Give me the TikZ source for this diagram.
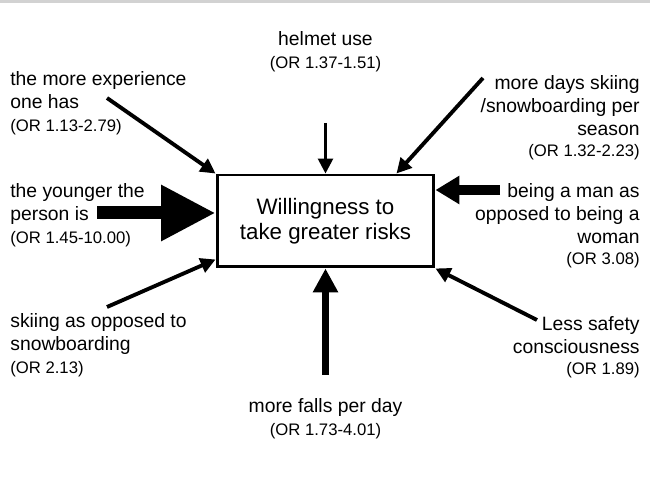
\documentclass[tikz,border=0pt]{standalone}
\usepackage{fontspec}
\setmainfont{Liberation Sans}
\usetikzlibrary{arrows.meta,calc}

\newcommand{\oddsr}{\fontsize{9.5}{11}\selectfont}

\begin{document}
\begin{tikzpicture}[x=0.02cm,y=-0.02cm]

% Stili
\tikzset{
  testo/.style={inner sep=0pt, font=\fontsize{11}{13}\selectfont},
  freccia/.style={line width=2.2pt, -{Triangle[length=8.5pt,width=8.5pt]}},
  grossa/.style={-{Triangle[length=#1]}},
  centro/.style={draw, line width=1.7pt, minimum width=4.34cm, minimum height=1.84cm,
    align=center, font=\fontsize{12.7}{14.2}\selectfont}
}

\useasboundingbox (0,0) rectangle (650,482);
\fill[gray!35] (0,0) rectangle (650,3);

% --- Riquadro centrale ---
\node[centro] (box) at (325.5,221) {Willingness to\\take greater risks};

% --- Etichette a sinistra ---
\node[testo, anchor=north west, align=left] (esp) at (10,71)
  {the more experience\\one has\\{\oddsr (OR 1.13-2.79)}};
\node[testo, anchor=north west, align=left] (giov) at (10,183)
  {the younger the\\person is\\{\oddsr (OR 1.45-10.00)}};
\node[testo, anchor=north west, align=left] (sci) at (10,313)
  {skiing as opposed to\\snowboarding\\{\oddsr (OR 2.13)}};

% --- Etichette in alto e in basso ---
\node[testo, anchor=north, align=center] (casco) at (325.5,31)
  {helmet use\\{\oddsr (OR 1.37-1.51)}};
\node[testo, anchor=north, align=center] (cadute) at (325.5,398)
  {more falls per day\\{\oddsr (OR 1.73-4.01)}};

% --- Etichette a destra ---
\node[testo, anchor=north east, align=right] (giorni) at (640,75)
  {more days skiing\\/snowboarding per\\season\\[-1pt]{\oddsr (OR 1.32-2.23)}};
\node[testo, anchor=north east, align=right] (uomo) at (640,183)
  {being a man as\\opposed to being a\\woman\\[-1pt]{\oddsr (OR 3.08)}};
\node[testo, anchor=north east, align=right] (sicur) at (640,316)
  {Less safety\\consciousness\\[-1pt]{\oddsr (OR 1.89)}};

% Estremi liberi delle frecce
\coordinate (p-esp) at (107,98);
\coordinate (p-giov) at (97,213);
\coordinate (p-sci) at (107,307);
\coordinate (p-casco) at (325.5,123);
\coordinate (p-giorni) at (483,78);
\coordinate (p-uomo) at (500,190);
\coordinate (p-sicur) at (537,320);
\coordinate (p-cadute) at (325.5,375);

% Frecce sottili
\draw[freccia] (p-esp) -- (box.north west);
\draw[freccia] (p-sci) -- ($(box.south west)+(0,-9)$);
\draw[freccia, line width=1.6pt] (p-casco) -- (box.north);
\draw[freccia] (p-giorni) -- ($(box.north east)+(-39,0)$);
\draw[freccia] (p-sicur) -- (box.south east);

% Frecce grosse
\draw[line width=7.4pt, -{Triangle[length=31pt,width=30pt]}] (p-giov) -- (p-giov -| box.west);
\draw[line width=5.7pt, -{Triangle[length=13.6pt,width=15.3pt]}] (p-uomo) -- (p-uomo -| box.east);
\draw[line width=4.5pt, -{Triangle[length=13.6pt,width=13.6pt]}] (p-cadute) -- (box.south);

\end{tikzpicture}
\end{document}
